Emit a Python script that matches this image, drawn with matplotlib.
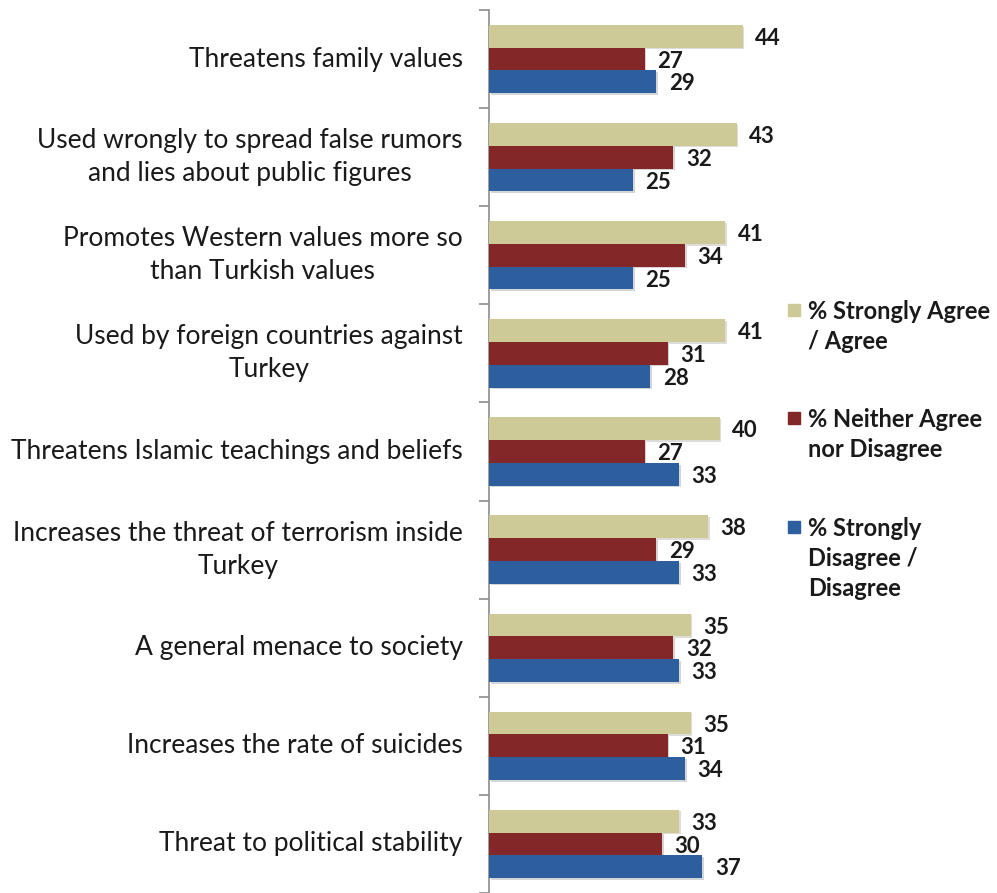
import numpy as np
import matplotlib
matplotlib.use("Agg")
import matplotlib.pyplot as plt
from matplotlib.patches import Rectangle
import matplotlib.patheffects as pe

categories = [
    "Threatens family values",
    "Used wrongly to spread false rumors\nand lies about public figures",
    "Promotes Western values more so\nthan Turkish values",
    "Used by foreign countries against\nTurkey",
    "Threatens Islamic teachings and beliefs",
    "Increases the threat of terrorism inside\nTurkey",
    "A general menace to society",
    "Increases the rate of suicides",
    "Threat to political stability",
]
agree = [44, 43, 41, 41, 40, 38, 35, 35, 33]
neither = [27, 32, 34, 31, 27, 29, 32, 31, 30]
disagree = [29, 25, 25, 28, 33, 33, 33, 34, 37]
series_names = ["% Strongly Agree\n/ Agree",
                "% Neither Agree\nnor Disagree",
                "% Strongly\nDisagree /\nDisagree"]

TAN, RED, BLUE = "#cdca97", "#842729", "#2d5f9e"
INK = "#1a1a1a"
FONT = ["Lato", "DejaVu Sans"]
plt.rcParams["font.family"] = FONT

fig = plt.figure(figsize=(9.97, 8.93), dpi=100)
ax = fig.add_axes([0.4905, 0.0, 0.2890, 0.9888])

y = np.arange(len(categories))
h = 0.232
shadow = [pe.SimplePatchShadow(offset=(1.2, -1.2), alpha=0.18), pe.Normal()]
for vals, col, off in [(agree, TAN, -h), (neither, RED, 0.0), (disagree, BLUE, h)]:
    bars = ax.barh(y + off, vals, height=h, color=col, zorder=3, linewidth=0)
    for b in bars:
        b.set_path_effects(shadow)
    for yy, v in zip(y + off, vals):
        ax.annotate(f"{v}", (v, yy), xytext=(9, -1.5), textcoords="offset points",
                    va="center", ha="left", fontsize=16, fontweight="bold", color=INK)

ax.set_xlim(0, 50)
ax.set_ylim(len(categories) - 0.5, -0.5)
ax.set_xticks([])
ax.set_yticks(y)
ax.set_yticklabels(categories, fontsize=19, color=INK, multialignment="center",
                   linespacing=1.4, va="center")
ax.set_yticks(np.arange(len(categories) + 1) - 0.5, minor=True)
ax.tick_params(axis="y", which="major", length=0, pad=19)
ax.tick_params(axis="y", which="minor", length=7, width=1.2, color="#8c8c8c", direction="out")
for sp in ("top", "right", "bottom"):
    ax.spines[sp].set_visible(False)
ax.spines["left"].set_color("#8c8c8c")
ax.spines["left"].set_linewidth(1.2)
ax.patch.set_alpha(0)

# legend, drawn by hand so the swatch sits on the first text line
leg_x = 0.8105
leg_tops = [0.6640, 0.5431, 0.4210]
sw_bottoms = [0.6461, 0.5252, 0.4031]
for name, col, top, sb in zip(series_names, [TAN, RED, BLUE], leg_tops, sw_bottoms):
    fig.text(leg_x, top, name, ha="left", va="top", fontsize=17, fontweight="bold",
             color=INK, linespacing=1.38)
    fig.add_artist(Rectangle((0.7905, sb), 0.0120, 0.0134,
                             transform=fig.transFigure, color=col))

fig.savefig("out.png", dpi=100, facecolor="white")
